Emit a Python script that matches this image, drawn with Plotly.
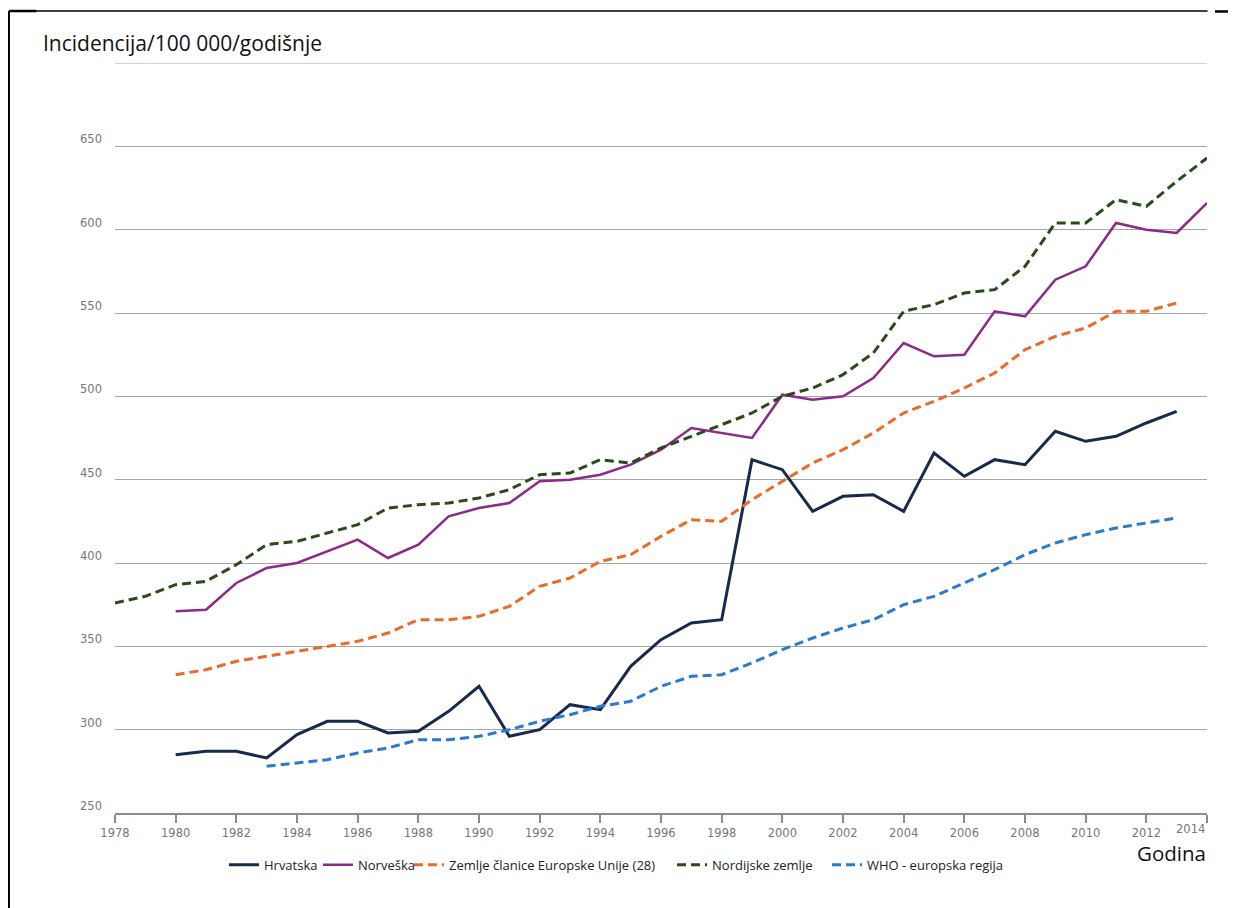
import plotly.graph_objects as go

hrvatska_years = list(range(1980, 2014))
hrvatska = [285, 287, 287, 283, 297, 305, 305, 298, 299, 311, 326, 296, 300, 315, 312,
            338, 354, 364, 366, 462, 456, 431, 440, 441, 431, 466, 452, 462, 459, 479,
            473, 476, 484, 491]

norveska_years = list(range(1980, 2015))
norveska = [371, 372, 388, 397, 400, 407, 414, 403, 411, 428, 433, 436, 449, 450, 453,
            459, 468, 481, 478, 475, 501, 498, 500, 511, 532, 524, 525, 551, 548, 570,
            578, 604, 600, 598, 616]

eu_years = list(range(1980, 2014))
eu28 = [333, 336, 341, 344, 347, 350, 353, 358, 366, 366, 368, 374, 386, 391, 401,
        405, 416, 426, 425, 438, 449, 460, 468, 478, 490, 497, 505, 514, 528, 536,
        541, 551, 551, 556]

nordic_years = list(range(1978, 2015))
nordic = [376, 380, 387, 389, 399, 411, 413, 418, 423, 433, 435, 436, 439, 444, 453,
          454, 462, 460, 469, 476, 483, 490, 500, 505, 513, 526, 551, 555, 562, 564,
          578, 604, 604, 618, 614, 629, 643]

who_years = list(range(1983, 2014))
who = [278, 280, 282, 286, 289, 294, 294, 296, 300, 305, 309, 314, 317, 326, 332,
       333, 340, 348, 355, 361, 366, 375, 380, 388, 396, 405, 412, 417, 421, 424, 427]

x_ticks = list(range(1978, 2015, 2))
y_ticks = [250, 300, 350, 400, 450, 500, 550, 600, 650]
y_top = 700

series = [
    ("Hrvatska", hrvatska_years, hrvatska, "#172a4e", "solid", 3),
    ("Norveška", norveska_years, norveska, "#8b2a88", "solid", 2.5),
    ("Zemlje članice Europske Unije (28)", eu_years, eu28, "#ea6a2a", "9px,5px", 3),
    ("Nordijske zemlje", nordic_years, nordic, "#2b4a1c", "9px,5px", 3),
    ("WHO - europska regija", who_years, who, "#2a7ad2", "9px,5px", 3),
]
legend_x = [0.0998, 0.1859, 0.2692, 0.5101, 0.652]
legend_ids = ["legend", "legend2", "legend3", "legend4", "legend5"]

fig = go.Figure()
for (name, xs, ys, color, dash, w), lid in zip(series, legend_ids):
    fig.add_trace(go.Scatter(x=xs, y=ys, name=name, mode="lines", legend=lid,
                             line=dict(color=color, width=w, dash=dash)))

W, H, OFF = 1228, 900, 8
legend_font = dict(family="Open Sans", size=13, color="#222")
layout_legends = {}
for lid, lx in zip(legend_ids, legend_x):
    layout_legends[lid] = dict(orientation="h", x=lx, xanchor="left", y=-0.069,
                               yanchor="middle", font=legend_font, itemwidth=30,
                               bgcolor="rgba(0,0,0,0)", borderwidth=0)

grid_color = "#a6a6a6"
fig.update_layout(
    width=W, height=H,
    margin=dict(l=115 - OFF, r=29, t=63 - OFF, b=95),
    paper_bgcolor="white", plot_bgcolor="white",
    title=dict(text="Incidencija/100 000/godišnje", x=(43 - OFF) / W, xanchor="left",
               y=1 - (44 - OFF) / H, yanchor="middle",
               font=dict(family="Open Sans", size=21, color="#111")),
    showlegend=True,
    xaxis=dict(range=[1978, 2014], tickvals=x_ticks,
               ticktext=[str(v) if v != 2014 else "" for v in x_ticks],
               showgrid=False, zeroline=False,
               showline=True, linecolor="#8c8c8c", linewidth=1.5,
               ticks="outside", ticklen=8, tickcolor="#8c8c8c", tickwidth=1.5,
               tickfont=dict(family="DejaVu Sans", size=11.5, color="#777")),
    yaxis=dict(range=[250, y_top], tickvals=y_ticks,
               ticktext=[str(v) for v in y_ticks],
               showgrid=True, gridcolor=grid_color, gridwidth=1.2,
               zeroline=False, showline=False, ticks="",
               ticklabelstandoff=12, ticklabelshift=-7,
               tickfont=dict(family="DejaVu Sans", size=11.5, color="#777")),
    **layout_legends,
)

# top (unlabelled) gridline at 700
fig.add_shape(type="line", xref="paper", yref="y", x0=0, x1=1, y0=y_top, y1=y_top,
              line=dict(color=grid_color, width=1.2))

fig.add_annotation(x=2014, xref="x", y=-0.0213, yref="paper", text="2014",
                   xanchor="right", yanchor="middle", showarrow=False,
                   font=dict(family="DejaVu Sans", size=11.5, color="#777"))
fig.add_annotation(x=1.001, xref="paper", y=-0.053, yref="paper", text="Godina",
                   xanchor="right", yanchor="middle", showarrow=False,
                   font=dict(family="Open Sans", size=20.5, color="#111"))

# page frame
fig.add_shape(type="line", xref="paper", yref="paper", x0=-0.0971, x1=-0.0971,
              y0=1.0693, y1=-0.14, line=dict(color="black", width=2))
fig.add_shape(type="line", xref="paper", yref="paper", x0=-0.0971, x1=1.0005,
              y0=1.0693, y1=1.0693, line=dict(color="black", width=1.5))
fig.add_shape(type="line", xref="paper", yref="paper", x0=-0.0971, x1=-0.072,
              y0=1.0693, y1=1.0693, line=dict(color="black", width=2.5))
fig.add_shape(type="line", xref="paper", yref="paper", x0=1.0073, x1=1.03,
              y0=1.0687, y1=1.0687, line=dict(color="black", width=2.5))

fig.write_html("out.html")
